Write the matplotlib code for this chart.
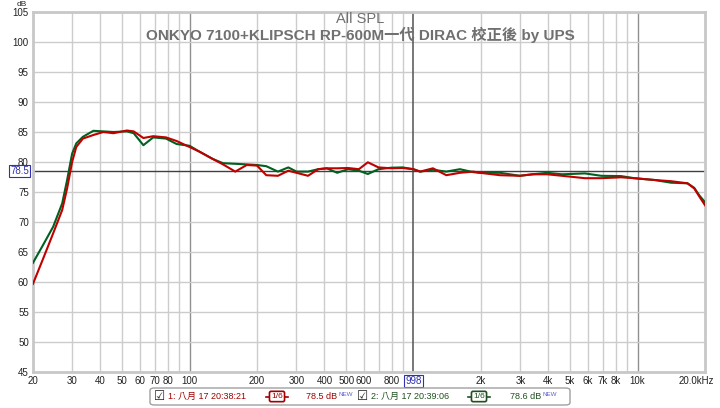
import matplotlib
matplotlib.use("Agg")
from matplotlib import pyplot as plt
from matplotlib.patches import FancyBboxPatch
from matplotlib.lines import Line2D
from matplotlib.transforms import ScaledTranslation

# data
freqs = [20, 22.2, 24.6, 27, 28.4, 29.9, 31.2, 33.4, 37.2, 41.2, 45.7, 52.5, 56.3,
         62.2, 68.8, 78.5, 87.5, 100, 111, 127, 141, 160, 180, 200, 220, 248, 276,
         300, 338, 375, 410, 456, 510, 570, 625, 697, 794, 893, 998, 1070, 1220,
         1400, 1610, 1850, 1980, 2430, 2980, 3400, 3950, 4600, 5820, 6880, 8440,
         9670, 11900, 14100, 16700, 17900, 18900, 20000]
spl_1 = [59.7, 63.9, 68.1, 72.0, 75.6, 80.0, 82.5, 83.9, 84.5, 85.0, 84.8, 85.25, 85.1,
         84.0, 84.3, 84.1, 83.5, 82.5, 81.7, 80.5, 79.6, 78.4, 79.5, 79.4, 77.8, 77.7, 78.55,
         78.2, 77.7, 78.8, 78.95, 78.95, 79.0, 78.8, 79.95, 79.1, 78.95, 79.0, 78.8, 78.4, 78.95,
         77.8, 78.2, 78.4, 78.2, 77.8, 77.7, 77.95, 77.95, 77.7, 77.3, 77.3, 77.45,
         77.3, 77.0, 76.8, 76.45, 75.6, 74.2, 72.8]
spl_2 = [63.2, 66.2, 69.2, 73.1, 77.0, 81.4, 83.1, 84.2, 85.2, 85.1, 85.0, 85.1, 84.8,
         82.8, 84.1, 83.9, 83.0, 82.7, 81.7, 80.5, 79.8, 79.7, 79.6, 79.5, 79.3, 78.4, 79.1,
         78.4, 78.4, 78.8, 78.95, 78.2, 78.8, 78.55, 78.0, 78.8, 79.05, 79.1, 78.8, 78.4, 78.7,
         78.4, 78.8, 78.3, 78.2, 78.2, 77.7, 77.95, 78.2, 77.95, 78.1, 77.7, 77.65,
         77.3, 77.0, 76.55, 76.45, 75.7, 74.4, 73.3]

x_ticks = [20, 30, 40, 50, 60, 70, 80, 100, 200, 300, 400, 500, 600, 800,
           2000, 3000, 4000, 5000, 6000, 7000, 8000, 10000, 20000]
x_labels = ["20", "30", "40", "50", "60", "70", "80", "100", "200", "300", "400", "500",
            "600", "800", "2k", "3k", "4k", "5k", "6k", "7k", "8k", "10k", "20.0kHz"]
y_ticks = list(range(45, 106, 5))
cursor_f = 998
cursor_db = 78.5

red = "#c00000"
green = "#006020"
blue = "#3030b0"
W, H = 720, 408

plt.rcParams['font.family'] = ['Liberation Sans', 'Noto Sans CJK TC', 'DejaVu Sans']

fig = plt.figure(figsize=(7.2, 4.08), dpi=100)
ax = fig.add_axes([33 / W, 36 / H, 672 / W, 360 / H])

def px(x, y):
  return (x / W, 1 - y / H)

# grid
grid_f = [m * 10 ** e for e in range(1, 5) for m in range(1, 10)]
for f in grid_f:
  if f <= 20 or f >= 20000 or f == 1000:
    continue
  c = "#909090" if f in (100, 10000) else "#cccccc"
  ax.axvline(f, color=c, lw=1, zorder=1)
for y in y_ticks:
  ax.axhline(y, color="#cccccc", lw=1, zorder=1)
ax.axvline(cursor_f, color="#606060", lw=1.2, zorder=2)
ax.axhline(cursor_db, color="#404040", lw=1, zorder=2)

ax.plot(freqs, spl_2, color=green, lw=1.5, zorder=3)
ax.plot(freqs, spl_1, color=red, lw=1.5, zorder=4)

ax.set_xscale("log")
ax.set_xlim(20, 20000)
ax.set_ylim(45, 105)
ax.set_xticks(x_ticks)
ax.set_xticklabels(x_labels)
ax.minorticks_off()
ax.set_yticks(y_ticks)
ax.tick_params(length=0, labelsize=7, colors="#222222", pad=3)
# last label sits left of its tick so it stays inside the picture
last = ax.get_xticklabels()[-1]
last.set_transform(last.get_transform() + ScaledTranslation(-6 / 72, 0, fig.dpi_scale_trans))
for s in ax.spines.values():
  s.set_color("#c8c8c8")
  s.set_linewidth(2)

# cursor value boxes
ax.text(cursor_f, -0.012, "998", transform=ax.get_xaxis_transform(), ha="center", va="top",
        fontsize=7, color=blue,
        bbox=dict(boxstyle="square,pad=0.12", fc="white", ec=blue, lw=0.8))
ax.text(-0.006, cursor_db, "78.5", transform=ax.get_yaxis_transform(), ha="right", va="center",
        fontsize=7, color=blue,
        bbox=dict(boxstyle="square,pad=0.12", fc="white", ec=blue, lw=0.8))
fig.text(*px(22, 4.5), "dB", fontsize=6, ha="center", va="center", color="#222222")

# titles
fig.text(*px(360, 19), "All SPL", fontsize=10.5, color="#707070", ha="center", va="center")
fig.text(*px(360, 34.5), "ONKYO 7100+KLIPSCH RP-600M一代 DIRAC 校正後 by UPS",
         fontsize=11, fontweight="bold", color="#707070", ha="center", va="center")

# legend strip
fig.patches.append(FancyBboxPatch(px(150, 405), 420 / W, 17 / H,
                                  boxstyle="round,pad=0,rounding_size=0.006",
                                  transform=fig.transFigure, fc="white", ec="#a0a0a0", lw=1))
ly = 396.5
fig.canvas.draw()
for (cx, label, col, sx, val, vx) in [(160, "1: 八月 17 20:38:21", "#a00000", 277, "78.5 dB", 306),
                                      (363, "2: 八月 17 20:39:06", "#205020", 479, "78.6 dB", 510)]:
  fig.text(*px(cx, ly), "☑", family=["DejaVu Sans"], fontsize=9, ha="center", va="center", color="#222222")
  fig.text(*px(cx + 8, ly), label, fontsize=6.5, ha="left", va="center", color=col)
  fig.lines.append(Line2D([(sx - 11) / W, (sx + 11) / W], [1 - ly / H] * 2,
                          transform=fig.transFigure, color=col, lw=1.2))
  fig.text(*px(sx, ly), "1/6", fontsize=6, ha="center", va="center", color=col,
           bbox=dict(boxstyle="round,pad=0.2", fc="white", ec=col, lw=1.2))
  t = fig.text(*px(vx, ly), val, fontsize=6.5, ha="left", va="center", color=col)
  bb = t.get_window_extent(renderer=fig.canvas.get_renderer())
  fig.text((bb.x1 + 1) / W, (bb.y1 - 5) / H, "NEW", fontsize=4.5, ha="left", va="bottom", color="#6060d0")

fig.savefig("out.png", dpi=100)
